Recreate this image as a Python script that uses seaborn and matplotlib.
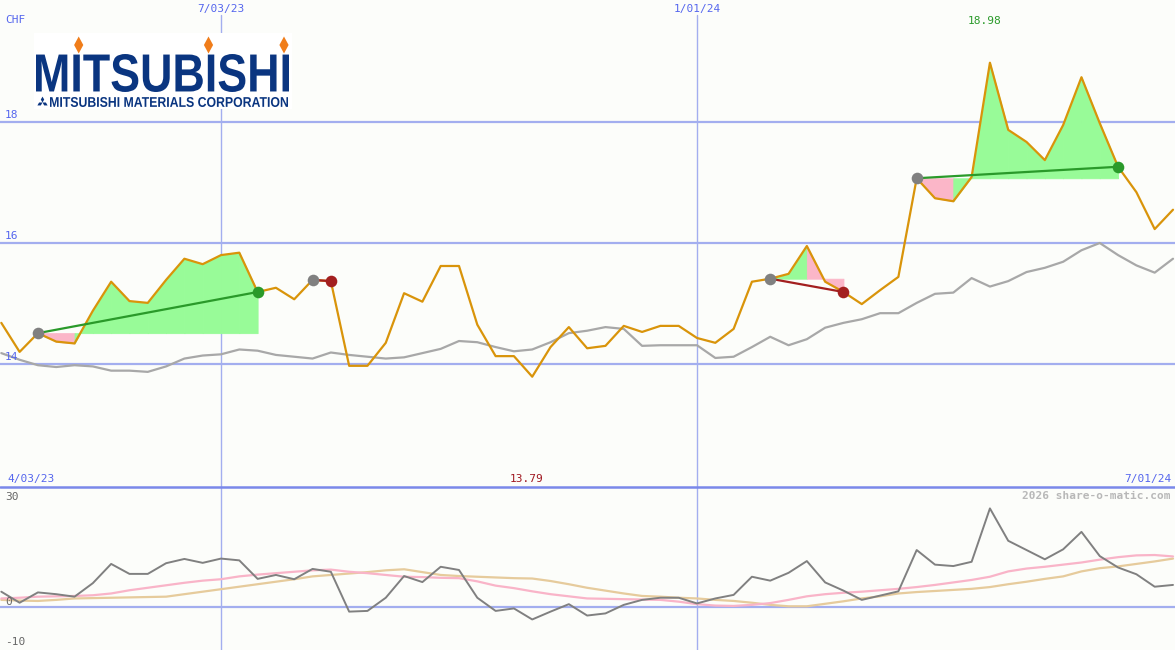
import numpy as np
import pandas as pd
import matplotlib
matplotlib.use("Agg")
import matplotlib.pyplot as plt
import seaborn as sns
from matplotlib.textpath import TextPath
from matplotlib.patches import PathPatch, Rectangle, Polygon
from matplotlib.font_manager import FontProperties
from matplotlib.transforms import Affine2D

# ---------------- data ----------------
dates = pd.date_range("2023-04-10", periods=65, freq="7D")

price = [14.68, 14.20, 14.51, 14.37, 14.34, 14.88, 15.36, 15.04, 15.01, 15.39,
         15.74, 15.65, 15.80, 15.84, 15.19, 15.26, 15.07, 15.39, 15.37, 13.97,
         13.97, 14.35, 15.17, 15.03, 15.62, 15.62, 14.65, 14.13, 14.13, 13.79,
         14.28, 14.61, 14.26, 14.30, 14.63, 14.53, 14.63, 14.63, 14.43, 14.35,
         14.58, 15.36, 15.41, 15.49, 15.95, 15.36, 15.19, 14.99, 15.22, 15.44,
         17.07, 16.74, 16.69, 17.09, 18.98, 17.87, 17.67, 17.37, 17.95, 18.74,
         17.98, 17.26, 16.84, 16.23, 16.55]

moving_avg = [14.18, 14.07, 13.98, 13.95, 13.98, 13.96, 13.89, 13.89, 13.87, 13.96,
              14.09, 14.14, 14.16, 14.24, 14.22, 14.15, 14.12, 14.09, 14.19, 14.15,
              14.12, 14.09, 14.11, 14.18, 14.25, 14.38, 14.36, 14.28, 14.21, 14.24,
              14.36, 14.51, 14.55, 14.61, 14.58, 14.30, 14.31, 14.31, 14.31, 14.10,
              14.12, 14.28, 14.45, 14.31, 14.41, 14.60, 14.68, 14.74, 14.84, 14.84,
              15.01, 15.16, 15.18, 15.42, 15.28, 15.37, 15.52, 15.59, 15.69, 15.88,
              16.00, 15.80, 15.63, 15.51, 15.74]

oscillator = [4.3, 1.2, 4.1, 3.6, 2.9, 6.7, 12.1, 9.3, 9.3, 12.3,
              13.5, 12.4, 13.6, 13.1, 7.9, 9.0, 7.8, 10.7, 9.9, -1.3,
              -1.1, 2.6, 8.7, 7.0, 11.3, 10.4, 2.6, -1.1, -0.4, -3.5,
              -1.3, 0.8, -2.4, -1.8, 0.6, 2.0, 2.6, 2.6, 1.0, 2.4,
              3.4, 8.5, 7.4, 9.6, 12.9, 6.9, 4.6, 2.0, 3.2, 4.4,
              16.0, 11.9, 11.5, 12.7, 27.7, 18.6, 16.0, 13.4, 16.2, 21.1,
              14.3, 11.1, 9.2, 5.7, 6.2]

osc_fast = [2.4, 2.6, 2.9, 3.0, 3.1, 3.3, 3.8, 4.7, 5.4, 6.1,
            6.8, 7.4, 7.8, 8.6, 9.1, 9.5, 9.9, 10.3, 10.5, 9.9,
            9.5, 9.0, 8.5, 8.4, 8.2, 8.1, 7.2, 6.0, 5.3, 4.4,
            3.6, 3.0, 2.4, 2.3, 2.2, 2.1, 2.0, 1.5, 0.8, 0.4,
            0.3, 0.6, 1.1, 2.0, 3.0, 3.6, 4.0, 4.3, 4.7, 5.1,
            5.6, 6.2, 6.9, 7.6, 8.5, 10.0, 10.8, 11.3, 11.9, 12.5,
            13.3, 14.0, 14.5, 14.6, 14.2]

osc_slow = [2.0, 1.8, 1.7, 2.0, 2.4, 2.5, 2.6, 2.7, 2.8, 2.9,
            3.6, 4.3, 5.0, 5.7, 6.4, 7.1, 7.8, 8.6, 9.0, 9.4,
            9.8, 10.3, 10.6, 9.8, 9.0, 8.7, 8.5, 8.3, 8.1, 8.0,
            7.3, 6.4, 5.4, 4.6, 3.8, 3.1, 2.9, 2.6, 2.4, 2.0,
            1.7, 1.2, 0.6, 0.2, 0.2, 0.9, 1.6, 2.4, 3.0, 3.8,
            4.2, 4.5, 4.8, 5.1, 5.6, 6.4, 7.1, 7.9, 8.6, 10.0,
            10.9, 11.4, 12.1, 12.8, 13.6]

trade_entry = [2, 17, 42, 50]
trade_exit = [14, 18, 46, 61]

grid_dates = ["2023-07-03", "2024-01-01"]
grid_date_labels = ["7/03/23", "1/01/24"]
price_ticks = [14, 16, 18]
osc_ticks = [30, 0, -10]
range_start_label = "4/03/23"
range_end_label = "7/01/24"
max_label = "18.98"
min_label = "13.79"
currency = "CHF"
watermark = "2026 share-o-matic.com"

# ---------------- styling ----------------
W, H = 1175, 650
BG = "#fcfdfa"
GRID = "#a3aeef"
LABEL_BLUE = "#5566ee"
ORANGE = "#d9940a"
MA_GRAY = "#a8a8a8"
GREEN_FILL = "#98fb98"
PINK_FILL = "#fbb6c8"
GREEN_LINE = "#2a9a2a"
RED_LINE = "#a31f1f"
NAVY = "#0a3580"

sns.set_style("white")
plt.rcParams["font.family"] = ["DejaVu Sans Mono", "DejaVu Sans"]

fig = plt.figure(figsize=(W / 100, H / 100), dpi=100, facecolor=BG)
split = 487
ax = fig.add_axes([0, (H - split) / H, 1, split / H])
ax2 = fig.add_axes([0, 0, 1, (H - split) / H])
for a in (ax, ax2):
    a.set_facecolor(BG)
    for s in a.spines.values():
        s.set_visible(False)
    a.set_xticks([])
    a.set_yticks([])

px_per_day = (697 - 221) / 182.0
x_left = pd.Timestamp("2023-07-03") - pd.Timedelta(days=221 / px_per_day)
x_right = pd.Timestamp("2024-01-01") + pd.Timedelta(days=(W - 697) / px_per_day)
for a in (ax, ax2):
    a.set_xlim(x_left, x_right)

# main panel y scale: 60.5 px per unit, 14 at px 364
ppu = 60.5
ax.set_ylim(14 - (split - 364) / ppu, 14 + 364 / ppu)
# bottom panel: 0 at px 607, 3.56 px per unit
ppu2 = 3.56
ax2.set_ylim(-(H - 607) / ppu2, (607 - split) / ppu2)

# grid
for t in price_ticks:
    ax.axhline(t, color=GRID, lw=1.6, zorder=1)
for d in grid_dates:
    ax.axvline(pd.Timestamp(d), ymin=0, ymax=1 - 15 / split, color=GRID, lw=1.0, zorder=1)
    ax2.axvline(pd.Timestamp(d), color=GRID, lw=1.0, zorder=1)
ax2.axhline(0, color=GRID, lw=1.6, zorder=1)

# moving average and price
sns.lineplot(x=dates, y=moving_avg, ax=ax, color=MA_GRAY, lw=1.6, zorder=2)

# trade fills
for e, x in zip(trade_entry, trade_exit):
    level = price[e]
    for i in range(e, x):
        c = GREEN_FILL if price[i + 1] >= level else PINK_FILL
        ax.fill_between(dates[i:i + 2], price[i:i + 2], level, facecolor=c,
                        edgecolor=c, lw=0.6, zorder=3)

sns.lineplot(x=dates, y=price, ax=ax, color=ORANGE, lw=1.6, zorder=4)

for e, x in zip(trade_entry, trade_exit):
    win = price[x] >= price[e]
    col = GREEN_LINE if win else RED_LINE
    ax.plot([dates[e], dates[x]], [price[e], price[x]], color=col, lw=1.6, zorder=5)
    ax.scatter([dates[e]], [price[e]], s=70, color="#808080", zorder=6, lw=0)
    ax.scatter([dates[x]], [price[x]], s=70, color=col, zorder=6, lw=0)

# bottom panel
sns.lineplot(x=dates, y=osc_slow, ax=ax2, color="#e6cb9c", lw=1.6, zorder=2)
sns.lineplot(x=dates, y=osc_fast, ax=ax2, color="#f9b4c8", lw=1.6, zorder=3)
sns.lineplot(x=dates, y=oscillator, ax=ax2, color="#808080", lw=1.4, zorder=4)

# separator
fig.add_artist(plt.Line2D([0, 1], [(H - split) / H] * 2, color="#7a88ea", lw=1.8,
                          transform=fig.transFigure, zorder=5))


def ftxt(x, y, s, **kw):
    fig.text(x / W, 1 - y / H, s, fontsize=8, **kw)


ftxt(5, 20, currency, color=LABEL_BLUE, va="center", ha="left")
for d, lab in zip(grid_dates, grid_date_labels):
    xp = 221 + (pd.Timestamp(d) - pd.Timestamp("2023-07-03")).days * px_per_day
    ftxt(xp, 9, lab, color=LABEL_BLUE, va="center", ha="center")
for t in price_ticks:
    yp = 364 - (t - 14) * ppu
    ftxt(5, yp - 2, str(t), color=LABEL_BLUE, va="bottom", ha="left")
ftxt(985, 21, max_label, color=GREEN_LINE, va="center", ha="center")
ftxt(527, 479, min_label, color="#a01820", va="center", ha="center")
ftxt(7, 479, range_start_label, color=LABEL_BLUE, va="center", ha="left")
ftxt(1171, 479, range_end_label, color=LABEL_BLUE, va="center", ha="right")
ftxt(1171, 496, watermark, color="#b8b8b8", va="center", ha="right", fontweight="bold")
for t, yp in zip(osc_ticks, [497, 602, 642]):
    ftxt(5, yp, str(t), color="#666666", va="center", ha="left")

# ---------------- logo ----------------
pix = Affine2D().scale(1 / W, 1 / H) + fig.transFigure
fig.add_artist(Rectangle((34, H - 109), 258, 76, transform=pix, fc="white", ec="none", zorder=4))


def fit_text(s, x0, y0, x1, y1, weight="bold", family="Liberation Sans", color=NAVY):
    fp = FontProperties(family=family, weight=weight)
    tp = TextPath((0, 0), s, size=100, prop=fp)
    bb = tp.get_extents()
    tr = (Affine2D().translate(-bb.x0, -bb.y0)
          .scale((x1 - x0) / bb.width, (y1 - y0) / bb.height)
          .translate(x0, H - y1))
    fig.add_artist(PathPatch(tr.transform_path(tp), fc=color, ec="none",
                             transform=pix, zorder=5))


fit_text("MITSUBISHI", 36, 54, 289, 92)
fit_text("MITSUBISHI MATERIALS CORPORATION", 50, 97, 288, 107)
for cx in (78.7, 208.5, 284):
    cy = 45
    fig.add_artist(Polygon([(cx, H - (cy - 8.5)), (cx + 4.6, H - cy), (cx, H - (cy + 8.5)),
                            (cx - 4.6, H - cy)], transform=pix, fc="#f07d1a", ec="none", zorder=5))
# three-diamond mark
c = np.array([42.5, H - 102.5])
s = 3.4
for th in (90, 210, 330):
    t = np.radians(th)
    u = lambda a: np.array([np.cos(a), np.sin(a)])
    pts = [c, c + s * u(t - np.radians(30)), c + s * np.sqrt(3) * u(t), c + s * u(t + np.radians(30))]
    fig.add_artist(Polygon(pts, transform=pix, fc=NAVY, ec="none", zorder=5))

fig.savefig("out.png", dpi=100, facecolor=BG)
